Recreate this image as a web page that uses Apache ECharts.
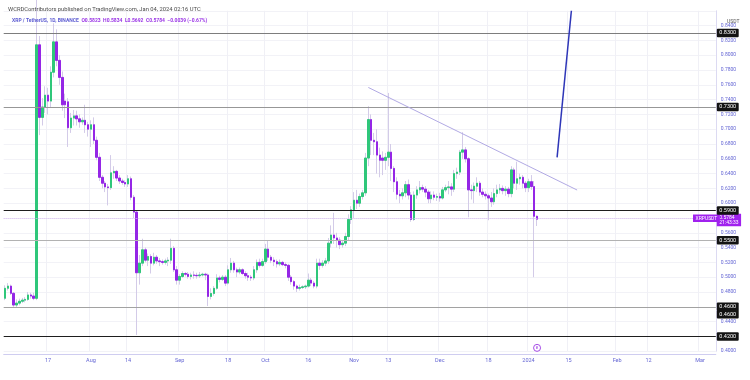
<!DOCTYPE html>
<html><head><meta charset="utf-8">
<script src="https://cdn.jsdelivr.net/npm/echarts/dist/echarts.min.js"></script>
<style>html,body{margin:0;padding:0;background:#fff}#c{width:750px;height:380px}</style>
</head><body><div id="c"></div>
<script>
// ---- data: daily XRP/USDT candles [open, close, low, high] ----
const startDate = [2023, 6, 2]; // 2023-07-02 (UTC, month 0-based)
const dayCount = 249;           // category slots through 2024-03-06
const jul = [
 [0.4715,0.4850,0.4690,0.4890],[0.4850,0.4880,0.4820,0.4920],[0.4880,0.4782,0.4760,0.4900],[0.4782,0.4624,0.4600,0.4800],
 [0.4624,0.4650,0.4590,0.4700],[0.4650,0.4675,0.4620,0.4710],[0.4675,0.4690,0.4650,0.4720],[0.4690,0.4700,0.4660,0.4730],
 [0.4700,0.4760,0.4680,0.4800],[0.4760,0.4745,0.4710,0.4790],[0.4745,0.4715,0.4690,0.4790],[0.4715,0.8140,0.4690,0.9380],
 [0.8140,0.7160,0.6920,0.8260],[0.7160,0.7300,0.7050,0.7420],[0.7300,0.7460,0.7220,0.7580],[0.7460,0.7380,0.7200,0.7560],
 [0.7380,0.7770,0.7300,0.7850],[0.7770,0.8180,0.7700,0.8430],[0.8180,0.7930,0.7850,0.8350],[0.7930,0.7700,0.7600,0.8000],
 [0.7700,0.7330,0.7250,0.7780],[0.7380,0.7330,0.7150,0.7480],[0.7370,0.7020,0.6760,0.7420],[0.7020,0.7150,0.6950,0.7220],
 [0.7150,0.7180,0.7050,0.7260],[0.7180,0.7140,0.7050,0.7250],[0.7140,0.7100,0.7020,0.7200],[0.7100,0.7120,0.7060,0.7160],
 [0.7120,0.7060,0.6950,0.7330],[0.7060,0.7000,0.6900,0.7100]
];
const aug = [
 [0.7000,0.7060,0.6760,0.7120],[0.7060,0.6850,0.6800,0.7160],[0.6850,0.6620,0.6580,0.6900],[0.6620,0.6350,0.6300,0.6680],
 [0.6350,0.6270,0.6200,0.6380],[0.6270,0.6220,0.6150,0.6300],[0.6220,0.6210,0.5970,0.6260],[0.6210,0.6410,0.6180,0.6650],
 [0.6410,0.6430,0.6330,0.6500],[0.6430,0.6340,0.6300,0.6450],[0.6340,0.6300,0.6260,0.6380],[0.6300,0.6280,0.6250,0.6330],
 [0.6280,0.6260,0.6220,0.6310],[0.6260,0.6330,0.6220,0.6380],[0.6330,0.6080,0.6040,0.6360],[0.6080,0.5880,0.5800,0.6110],
 [0.5880,0.5060,0.4220,0.5900],[0.5060,0.5190,0.4900,0.5300],[0.5190,0.5370,0.5150,0.5520],[0.5370,0.5230,0.5200,0.5400],
 [0.5230,0.5280,0.5150,0.5320],[0.5280,0.5190,0.5050,0.5310],[0.5190,0.5270,0.5160,0.5330],[0.5270,0.5220,0.5180,0.5300],
 [0.5220,0.5210,0.5150,0.5260],[0.5210,0.5200,0.5170,0.5240],[0.5200,0.5220,0.5170,0.5250],[0.5220,0.5230,0.5150,0.5270],
 [0.5230,0.5390,0.5180,0.5520],[0.5390,0.5100,0.5070,0.5420],[0.5100,0.4960,0.4900,0.5150]
];
const sep = [
 [0.4960,0.5010,0.4900,0.5040],[0.5010,0.5050,0.4990,0.5080],[0.5050,0.5040,0.5010,0.5070],[0.5040,0.5010,0.4980,0.5070],
 [0.5010,0.5030,0.4970,0.5060],[0.5030,0.5025,0.4980,0.5080],[0.5025,0.5020,0.4980,0.5060],[0.5020,0.5030,0.4990,0.5070],
 [0.5030,0.5040,0.5010,0.5060],[0.5040,0.5030,0.4960,0.5060],[0.5030,0.4740,0.4610,0.5050],[0.4740,0.4780,0.4700,0.4850],
 [0.4780,0.4850,0.4750,0.4880],[0.4850,0.4990,0.4830,0.5040],[0.4990,0.4970,0.4930,0.5020],[0.4970,0.5000,0.4950,0.5030],
 [0.5000,0.4920,0.4880,0.5030],[0.4920,0.5100,0.4900,0.5160],[0.5100,0.5190,0.5060,0.5260],[0.5190,0.5100,0.5060,0.5220],
 [0.5100,0.5070,0.5000,0.5130],[0.5070,0.5100,0.5040,0.5130],[0.5100,0.5050,0.5030,0.5120],[0.5050,0.5020,0.4980,0.5080],
 [0.5020,0.5000,0.4950,0.5060],[0.5000,0.4990,0.4950,0.5030],[0.4990,0.5100,0.4960,0.5150],[0.5100,0.5200,0.5060,0.5240],
 [0.5200,0.5160,0.5130,0.5250],[0.5160,0.5210,0.5140,0.5250]
];
const oct = [
 [0.5210,0.5380,0.5180,0.5450],[0.5380,0.5270,0.5220,0.5500],[0.5270,0.5230,0.5190,0.5300],[0.5230,0.5210,0.5150,0.5270],
 [0.5210,0.5180,0.5130,0.5240],[0.5180,0.5200,0.5150,0.5240],[0.5200,0.5170,0.5150,0.5220],[0.5170,0.5160,0.5120,0.5200],
 [0.5160,0.5000,0.4950,0.5180],[0.5000,0.4940,0.4900,0.5030],[0.4940,0.4880,0.4830,0.4960],[0.4880,0.4850,0.4800,0.4900],
 [0.4850,0.4860,0.4820,0.4900],[0.4860,0.4870,0.4840,0.4890],[0.4870,0.4880,0.4840,0.4900],[0.4880,0.4960,0.4860,0.5050],
 [0.4960,0.4920,0.4880,0.4990],[0.4920,0.4880,0.4850,0.4950],[0.4880,0.5190,0.4850,0.5250],[0.5190,0.5160,0.5100,0.5250],
 [0.5160,0.5190,0.5130,0.5230],[0.5190,0.5220,0.5150,0.5260],[0.5220,0.5460,0.5180,0.5530],[0.5460,0.5570,0.5400,0.5700],
 [0.5570,0.5530,0.5450,0.5870],[0.5530,0.5500,0.5400,0.5600],[0.5500,0.5440,0.5380,0.5540],[0.5440,0.5460,0.5400,0.5500],
 [0.5460,0.5550,0.5420,0.5600],[0.5550,0.5780,0.5500,0.5850],[0.5780,0.5910,0.5720,0.5960]
];
const nov = [
 [0.5910,0.6040,0.5800,0.6150],[0.6040,0.6000,0.5920,0.6180],[0.6000,0.6090,0.5950,0.6130],[0.6090,0.6140,0.6050,0.6180],
 [0.6140,0.6610,0.6100,0.6680],[0.6610,0.7130,0.6500,0.7310],[0.7130,0.6850,0.6650,0.7200],[0.6850,0.6830,0.6650,0.6950],
 [0.6830,0.6650,0.6400,0.7000],[0.6650,0.6580,0.6350,0.6750],[0.6610,0.6580,0.6380,0.6700],[0.6580,0.6620,0.6450,0.6680],
 [0.6620,0.6690,0.6500,0.7490],[0.6690,0.6470,0.6300,0.6800],[0.6470,0.6290,0.6150,0.6500],[0.6290,0.6120,0.6050,0.6350],
 [0.6120,0.6100,0.6000,0.6180],[0.6100,0.6140,0.6050,0.6200],[0.6140,0.6250,0.6080,0.6300],[0.6250,0.6110,0.6050,0.6320],
 [0.6110,0.5780,0.5750,0.6150],[0.5780,0.6110,0.5760,0.6160],[0.6110,0.6180,0.6060,0.6230],[0.6180,0.6210,0.6130,0.6300],
 [0.6210,0.6190,0.6150,0.6250],[0.6190,0.6150,0.6080,0.6230],[0.6150,0.6060,0.6000,0.6180],[0.6060,0.6110,0.6000,0.6160],
 [0.6110,0.6080,0.6040,0.6160],[0.6080,0.6090,0.6030,0.6130]
];
const dec = [
 [0.6090,0.6070,0.6020,0.6140],[0.6070,0.6180,0.6050,0.6220],[0.6180,0.6210,0.6150,0.6250],[0.6210,0.6220,0.6120,0.6300],
 [0.6220,0.6190,0.6100,0.6270],[0.6190,0.6400,0.6150,0.6450],[0.6400,0.6420,0.6330,0.6480],[0.6420,0.6690,0.6380,0.6720],
 [0.6690,0.6720,0.6600,0.6960],[0.6720,0.6600,0.6550,0.6760],[0.6600,0.6180,0.5810,0.6620],[0.6180,0.6170,0.6050,0.6250],
 [0.6170,0.6230,0.6000,0.6280],[0.6230,0.6270,0.6150,0.6350],[0.6270,0.6150,0.6100,0.6300],[0.6150,0.6120,0.6080,0.6200],
 [0.6120,0.6100,0.6050,0.6160],[0.6100,0.6070,0.5770,0.6130],[0.6070,0.6020,0.5950,0.6150],[0.6020,0.6130,0.5980,0.6200],
 [0.6130,0.6180,0.6080,0.6250],[0.6180,0.6200,0.6130,0.6260],[0.6200,0.6170,0.6120,0.6240],[0.6170,0.6190,0.6100,0.6230],
 [0.6190,0.6130,0.6080,0.6220],[0.6130,0.6450,0.6080,0.6500],[0.6450,0.6270,0.6200,0.6480],[0.6270,0.6330,0.6180,0.6560],
 [0.6330,0.6350,0.6250,0.6400],[0.6350,0.6270,0.6200,0.6380],[0.6270,0.6210,0.6150,0.6300]
];
const jan = [
 [0.6210,0.6290,0.6150,0.6330],[0.6290,0.6225,0.6180,0.6380],[0.6225,0.5823,0.5000,0.6300],[0.5823,0.5784,0.5692,0.5834]
];
// horizontal levels drawn on the chart
const levels = [0.83, 0.73, 0.59, 0.55, 0.46, 0.42];
const lastPrice = 0.5784;
const lastTime = '21:43:33';
const trendLine = [['2023-11-06', 0.7564], ['2024-01-18', 0.6178]];
const projection = [['2024-01-11', 0.662], ['2024-01-16', 0.86]];
const eventMark = ['2024-01-04', 0.4045];
const timeLabels = {
 '2023-07-17':'17','2023-08-01':'Aug','2023-08-14':'14','2023-09-01':'Sep','2023-09-18':'18',
 '2023-10-01':'Oct','2023-10-16':'16','2023-11-01':'Nov','2023-11-13':'13','2023-12-01':'Dec',
 '2023-12-18':'18','2024-01-01':'2024','2024-01-15':'15','2024-02-01':'Feb','2024-02-12':'12','2024-03-01':'Mar'
};
const hiddenPriceLabels = [0.86, 0.58, 0.46, 0.42];
const headerLine1 = 'WCRDContributors published on TradingView.com, Jan 04, 2024 02:16 UTC';
const headerSymbol = 'XRP / TetherUS, 1D, BINANCE';
const headerOHLC = 'O0.5823  H0.5834  L0.5692  C0.5784  −0.0039 (−0.67%)';

// ---- styles ----
const levelStyle = {
  0.83: { color: '#7d7d7d', width: 1.1 }, 0.73: { color: '#979797', width: 1.1 }, 0.59: { color: '#1e1e1e', width: 1.2 },
  0.55: { color: '#b2b2b2', width: 1.1 }, 0.46: { color: '#a2a2a2', width: 1.1 }, 0.42: { color: '#1e1e1e', width: 1.2 }
};
const UP = '#2fc77a', DOWN = '#9526e6', WICK = '#d3cbe8';
const AXIS_TXT = '#6466d4';
const FONT = 'Roboto, "Noto Sans", sans-serif';
const HIDE = { color: 'rgba(0,0,0,0)', width: 0, type: 'solid' };

// ---- build ----
const candles = [].concat(jul, aug, sep, oct, nov, dec, jan);
const dates = [];
const t0 = Date.UTC(startDate[0], startDate[1], startDate[2]);
for (let i = 0; i < dayCount; i++) dates.push(new Date(t0 + i * 86400000).toISOString().slice(0, 10));
const bodies = candles.map(([o, c]) => [o, c, Math.min(o, c), Math.max(o, c)]);

const tagLabel = (bg) => ({
  show: true, position: 'end', distance: 1, color: '#fff', backgroundColor: bg,
  fontSize: 5.5, fontFamily: FONT, padding: [1.5, 2.5, 1, 2.5], borderRadius: 1,
  formatter: (p) => Number(p.value).toFixed(4)
});

const markLineData = [];
// last price line first (drawn under the level lines)
markLineData.push({ yAxis: lastPrice, lineStyle: { color: '#d9bdf3', width: 1, type: 'dotted' },
  label: { show: true, position: 'end', distance: 1, color: '#fff', backgroundColor: '#a021ee', fontSize: 5, lineHeight: 5.5,
    fontFamily: FONT, padding: [1, 2.5, 0.5, 2.5], offset: [0, 2], formatter: lastPrice.toFixed(4) + '\n' + lastTime } });
markLineData.push({ yAxis: lastPrice, lineStyle: HIDE,
  label: { show: true, position: 'insideEndTop', distance: -4, color: '#fff', backgroundColor: '#a021ee', fontSize: 5,
    fontFamily: FONT, padding: [1.5, 2.5, 1, 2.5], formatter: 'XRPUSDT' } });
levels.forEach(v => {
  markLineData.push({ yAxis: v, lineStyle: Object.assign({ type: 'solid' }, levelStyle[v]), label: tagLabel('#131313') });
});
// second stacked tag for the 0.46 level
markLineData.push({ yAxis: 0.46, lineStyle: HIDE, label: Object.assign(tagLabel('#131313'), { offset: [0, 7.5] }) });
// drawings
markLineData.push([{ coord: trendLine[0], lineStyle: { color: '#b1a9e4', width: 1, type: 'solid' }, label: { show: false } }, { coord: trendLine[1] }]);
markLineData.push([{ coord: projection[0], lineStyle: { color: '#2e36b8', width: 1.5, type: 'solid' }, label: { show: false } }, { coord: projection[1] }]);

const chart = echarts.init(document.getElementById('c'), null, { renderer: 'canvas' });
chart.setOption({
  animation: false,
  backgroundColor: '#ffffff',
  textStyle: { fontFamily: FONT },
  title: [
    { text: headerLine1, left: 3, top: 2, textStyle: { fontSize: 5.8, fontWeight: 'normal', color: '#4a4a4a', fontFamily: FONT } },
    { text: '{a|' + headerSymbol + '}  {b|' + headerOHLC + '}', left: 7, top: 13.5,
      textStyle: { fontSize: 5, fontFamily: FONT, rich: { a: { fontSize: 5, color: '#5d5cd2', fontFamily: FONT }, b: { fontSize: 5, color: '#9a35e6', fontFamily: FONT } } } },
    { text: 'USDT', left: 722, top: 14, textStyle: { fontSize: 5, fontWeight: 'normal', color: '#555', fontFamily: FONT } },
    { text: '{l|TV} {t|TradingView}', left: 3, top: 369,
      textStyle: { rich: { l: { fontSize: 6, fontWeight: 'bold', color: '#111', fontFamily: FONT }, t: { fontSize: 5, color: '#333', fontFamily: FONT } } } }
  ],
  grid: { left: 3.7, right: 34.2, top: 10.8, bottom: 28.8 },
  xAxis: {
    type: 'category', data: dates, boundaryGap: true, offset: 3,
    axisLine: { show: true, lineStyle: { color: '#cfcdf0', width: 1 } },
    axisTick: { show: false },
    axisLabel: { interval: (i, v) => timeLabels[v] !== undefined, formatter: (v) => timeLabels[v] || '',
      color: AXIS_TXT, fontSize: 5.5, margin: 3, fontFamily: FONT },
    splitLine: { show: true, interval: (i, v) => timeLabels[v] !== undefined, lineStyle: { color: '#f0f0f6', width: 1 } }
  },
  yAxis: {
    type: 'value', position: 'right', min: 0.40, max: 0.86, interval: 0.02, scale: true,
    axisLine: { show: true, lineStyle: { color: '#dcdaf2', width: 1 } },
    axisTick: { show: false },
    axisLabel: { color: AXIS_TXT, fontSize: 5, margin: 5, fontFamily: FONT,
      formatter: (v) => hiddenPriceLabels.some(h => Math.abs(h - v) < 1e-6) ? '' : v.toFixed(4) },
    splitLine: { show: true, lineStyle: { color: '#f2f2f7', width: 1 } }
  },
  series: [
    { type: 'candlestick', name: 'wicks', data: candles, barWidth: '70%', silent: true,
      itemStyle: { color: WICK, color0: WICK, borderColor: WICK, borderColor0: WICK, borderWidth: 1 } },
    { type: 'candlestick', name: 'XRPUSDT', data: bodies, barWidth: '70%', silent: true,
      itemStyle: { color: UP, color0: DOWN, borderColor: UP, borderColor0: DOWN, borderWidth: 1 },
      markLine: { symbol: ['none', 'none'], silent: true, animation: false, data: markLineData },
      markPoint: { silent: true, data: [{ coord: eventMark, symbol: 'circle', symbolSize: 7,
        itemStyle: { color: '#ffffff', borderColor: '#a54be6', borderWidth: 1 },
        label: { show: true, formatter: 'e', color: '#a54be6', fontSize: 4.5, fontFamily: FONT } }] } }
  ]
});
</script>
</body></html>
